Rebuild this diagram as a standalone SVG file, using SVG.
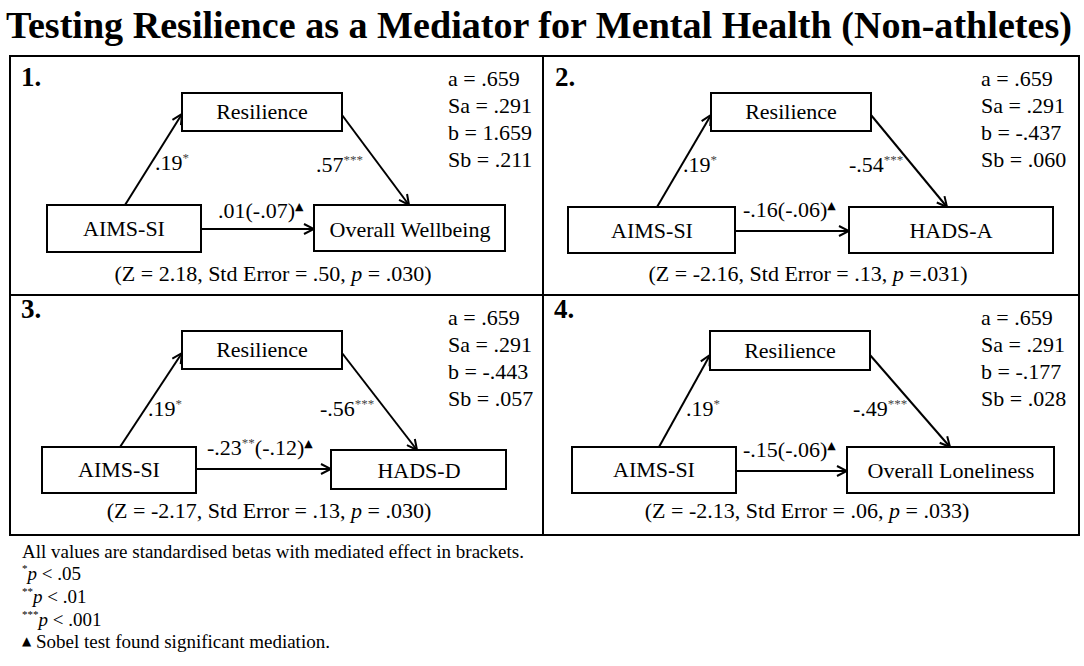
<svg xmlns="http://www.w3.org/2000/svg" width="1084" height="666" viewBox="0 0 1084 666">
<style>
text{font-family:"Liberation Serif","Times New Roman",serif;fill:#000}
.t{font-size:22px}
.c{text-anchor:middle}
.num{font-size:27px;font-weight:bold}
.sup{font-size:13px;fill:#444}
.tri{font-size:11px;font-family:"DejaVu Sans",sans-serif}
.fn{font-size:19px}
.box{fill:#fff;stroke:#000;stroke-width:2}
.ar{stroke:#000;stroke-width:2;fill:none;marker-end:url(#ah)}
.fr{fill:none;stroke:#000;stroke-width:2}
</style>
<defs>
<marker id="ah" viewBox="0 0 12 12" refX="11" refY="6" markerWidth="12" markerHeight="12" markerUnits="userSpaceOnUse" orient="auto">
<path d="M1,1 L11,6 L1,11" fill="none" stroke="#000" stroke-width="2"/>
</marker>
</defs>
<rect width="1084" height="666" fill="#fff"/>
<g id="title" transform="translate(6,38) scale(0.85,1)">
<text x="0" y="0" font-size="39" font-weight="bold" textLength="1254" lengthAdjust="spacingAndGlyphs">Testing Resilience as a Mediator for Mental Health (Non-athletes)</text>
</g>
<g id="frame">
<rect class="fr" x="10" y="56" width="1069" height="479"/>
<line class="fr" x1="543" y1="56" x2="543" y2="535"/>
<line class="fr" x1="10" y1="295" x2="1079" y2="295"/>
</g>
<g id="connectors">
<line class="ar" x1="125" y1="205" x2="182" y2="114"/>
<line class="ar" x1="342" y1="115" x2="409" y2="205"/>
<line class="ar" x1="201" y1="229" x2="314" y2="229"/>
<line class="ar" x1="657" y1="207" x2="711" y2="115"/>
<line class="ar" x1="871" y1="115" x2="947" y2="207"/>
<line class="ar" x1="735" y1="231" x2="849" y2="231"/>
<line class="ar" x1="120" y1="447" x2="182" y2="353"/>
<line class="ar" x1="342" y1="353" x2="417" y2="450"/>
<line class="ar" x1="196" y1="469" x2="331" y2="469"/>
<line class="ar" x1="659" y1="447" x2="710" y2="355"/>
<line class="ar" x1="870" y1="355" x2="950" y2="447"/>
<line class="ar" x1="736" y1="471" x2="847" y2="471"/>
</g>
<g id="panel1">
<text class="num" x="21" y="86">1.</text>
<text class="t" x="448" y="86">a = .659</text>
<text class="t" x="448" y="113">Sa = .291</text>
<text class="t" x="448" y="140">b = 1.659</text>
<text class="t" x="448" y="167">Sb = .211</text>
<text class="t" x="155" y="170">.19<tspan class="sup" dy="-8">*</tspan></text>
<text class="t" x="316" y="172">.57<tspan class="sup" dy="-8">***</tspan></text>
<text class="t" x="218" y="218">.01(-.07)<tspan class="tri" dy="-8">▲</tspan></text>
<text class="t c" x="273" y="281">(Z = 2.18, Std Error = .50, <tspan font-style="italic">p</tspan> = .030)</text>
</g>
<g id="p1-resilience"><rect class="box" x="182" y="93" width="160" height="38"/><text class="t c" x="262" y="119">Resilience</text></g>
<g id="p1-aims"><rect class="box" x="47" y="205" width="154" height="47"/><text class="t c" x="124" y="236">AIMS-SI</text></g>
<g id="p1-wellbeing"><rect class="box" x="314" y="205" width="191" height="46"/><text class="t c" x="410" y="237">Overall Wellbeing</text></g>
<g id="panel2">
<text class="num" x="555" y="86">2.</text>
<text class="t" x="981" y="86">a = .659</text>
<text class="t" x="981" y="113">Sa = .291</text>
<text class="t" x="981" y="140">b = -.437</text>
<text class="t" x="981" y="167">Sb = .060</text>
<text class="t" x="683" y="172">.19<tspan class="sup" dy="-8">*</tspan></text>
<text class="t" x="849" y="172">-.54<tspan class="sup" dy="-8">***</tspan></text>
<text class="t" x="743" y="217">-.16(-.06)<tspan class="tri" dy="-8">▲</tspan></text>
<text class="t c" x="808" y="281">(Z = -2.16, Std Error = .13, <tspan font-style="italic">p</tspan> =.031)</text>
</g>
<g id="p2-resilience"><rect class="box" x="711" y="93" width="160" height="38"/><text class="t c" x="791" y="119">Resilience</text></g>
<g id="p2-aims"><rect class="box" x="568" y="207" width="167" height="46"/><text class="t c" x="652" y="238">AIMS-SI</text></g>
<g id="p2-hadsa"><rect class="box" x="849" y="207" width="204" height="46"/><text class="t c" x="951" y="238">HADS-A</text></g>
<g id="panel3">
<text class="num" x="21" y="318">3.</text>
<text class="t" x="448" y="325">a = .659</text>
<text class="t" x="448" y="352">Sa = .291</text>
<text class="t" x="448" y="379">b = -.443</text>
<text class="t" x="448" y="406">Sb = .057</text>
<text class="t" x="148" y="416">.19<tspan class="sup" dy="-8">*</tspan></text>
<text class="t" x="320" y="416">-.56<tspan class="sup" dy="-8">***</tspan></text>
<text class="t" x="207" y="455">-.23<tspan class="sup" dy="-8">**</tspan><tspan dy="8">(-.12)</tspan><tspan class="tri" dy="-8">▲</tspan></text>
<text class="t c" x="269" y="518">(Z = -2.17, Std Error = .13, <tspan font-style="italic">p</tspan> = .030)</text>
</g>
<g id="p3-resilience"><rect class="box" x="182" y="331" width="160" height="38"/><text class="t c" x="262" y="357">Resilience</text></g>
<g id="p3-aims"><rect class="box" x="42" y="447" width="154" height="46"/><text class="t c" x="119" y="477">AIMS-SI</text></g>
<g id="p3-hadsd"><rect class="box" x="331" y="450" width="175" height="39"/><text class="t c" x="419" y="478">HADS-D</text></g>
<g id="panel4">
<text class="num" x="554" y="318">4.</text>
<text class="t" x="981" y="325">a = .659</text>
<text class="t" x="981" y="352">Sa = .291</text>
<text class="t" x="981" y="379">b = -.177</text>
<text class="t" x="981" y="406">Sb = .028</text>
<text class="t" x="686" y="416">.19<tspan class="sup" dy="-8">*</tspan></text>
<text class="t" x="853" y="416">-.49<tspan class="sup" dy="-8">***</tspan></text>
<text class="t" x="743" y="457">-.15(-.06)<tspan class="tri" dy="-8">▲</tspan></text>
<text class="t c" x="807" y="518">(Z = -2.13, Std Error = .06, <tspan font-style="italic">p</tspan> = .033)</text>
</g>
<g id="p4-resilience"><rect class="box" x="710" y="331" width="160" height="39"/><text class="t c" x="790" y="358">Resilience</text></g>
<g id="p4-aims"><rect class="box" x="572" y="447" width="164" height="46"/><text class="t c" x="654" y="477">AIMS-SI</text></g>
<g id="p4-loneliness"><rect class="box" x="847" y="447" width="207" height="46"/><text class="t c" x="951" y="478">Overall Loneliness</text></g>
<g id="footnote">
<text class="fn" x="22" y="558">All values are standardised betas with mediated effect in brackets.</text>
<text class="fn" x="22" y="580"><tspan font-size="11" dy="-8">*</tspan><tspan font-style="italic" dy="8">p</tspan> &lt; .05</text>
<text class="fn" x="22" y="603"><tspan font-size="11" dy="-8">**</tspan><tspan font-style="italic" dy="8">p</tspan> &lt; .01</text>
<text class="fn" x="22" y="626"><tspan font-size="11" dy="-8">***</tspan><tspan font-style="italic" dy="8">p</tspan> &lt; .001</text>
<text class="fn" x="22" y="648"><tspan font-size="12" dy="-3" font-family="DejaVu Sans, sans-serif">▲</tspan><tspan dy="3"> Sobel test found significant mediation.</tspan></text>
</g>
</svg>
